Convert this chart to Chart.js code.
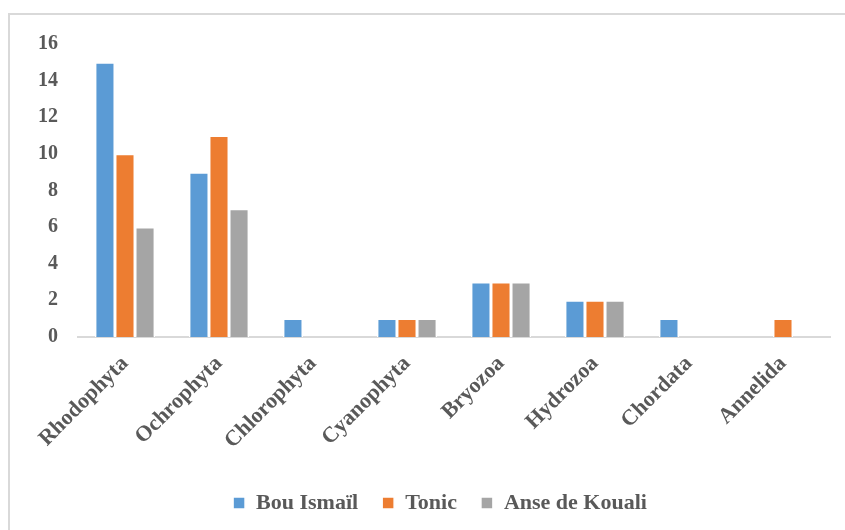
<!DOCTYPE html>
<html>
<head>
<meta charset="utf-8">
<script src="https://cdn.jsdelivr.net/npm/chart.js@4"></script>
<style>
  html, body { margin: 0; padding: 0; background: #fff; }
  #box { width: 845px; height: 530px; position: relative; }
</style>
</head>
<body>
<div id="box"><canvas id="grafico"></canvas></div>
<script>
// dados
const categorias = ['Rhodophyta', 'Ochrophyta', 'Chlorophyta', 'Cyanophyta', 'Bryozoa', 'Hydrozoa', 'Chordata', 'Annelida'];
const bouIsmail = [15, 9, 1, 1, 3, 2, 1, 0];
const tonic = [10, 11, 0, 1, 3, 2, 0, 1];
const anseDeKouali = [6, 7, 0, 1, 3, 2, 0, 0];
const ticksY = [0, 2, 4, 6, 8, 10, 12, 14, 16];

const fonte = '"Liberation Serif", "Times New Roman", serif';
const corTexto = '#595959';

// moldura cinza (canto superior esquerdo)
const moldura = {
  id: 'moldura',
  beforeDraw(chart) {
    const c = chart.ctx;
    c.save();
    c.strokeStyle = '#d9d9d9';
    c.lineWidth = 2;
    c.beginPath();
    c.moveTo(9, 530);
    c.lineTo(9, 14);
    c.lineTo(845, 14);
    c.stroke();
    c.restore();
  }
};

// legenda centrada sob a area do grafico
const legendaCentro = {
  id: 'legendaCentro',
  afterLayout(chart) {
    const lg = chart.legend;
    const desloc = (chart.chartArea.left + chart.chartArea.right) / 2 - (lg.left + lg.right) / 2 - 14;
    lg.left += desloc;
    lg.right += desloc;
  }
};

function serie(label, dados, cor) {
  return {
    label: label,
    data: dados,
    backgroundColor: cor,
    borderColor: '#ffffff',
    borderWidth: 1.5,
    borderSkipped: 'start',
    barPercentage: 1,
    categoryPercentage: 0.64
  };
}

new Chart(document.getElementById('grafico'), {
  type: 'bar',
  data: {
    labels: categorias,
    datasets: [
      serie('Bou Ismaïl', bouIsmail, '#5B9BD5'),
      serie('Tonic', tonic, '#ED7D31'),
      serie('Anse de Kouali', anseDeKouali, '#A5A5A5')
    ]
  },
  options: {
    responsive: true,
    maintainAspectRatio: false,
    animation: false,
    layout: { padding: { left: 8, right: 15, top: 44, bottom: 6 } },
    plugins: {
      tooltip: { enabled: false },
      legend: {
        position: 'bottom',
        labels: {
          boxWidth: 12,
          boxHeight: 12,
          padding: 24,
          color: corTexto,
          font: { family: fonte, size: 22, weight: 'bold' }
        }
      }
    },
    scales: {
      x: {
        grid: { display: false, drawTicks: false },
        border: { display: true, color: '#d9d9d9', width: 2 },
        ticks: {
          maxRotation: 45,
          minRotation: 45,
          padding: 14,
          color: corTexto,
          font: { family: fonte, size: 22, weight: 'bold' }
        }
      },
      y: {
        min: 0,
        max: 16,
        afterFit(scale) { scale.width = 70; },
        afterBuildTicks(scale) { scale.ticks = ticksY.map(v => ({ value: v })); },
        grid: { display: false, drawTicks: false },
        border: { display: false },
        ticks: {
          padding: 20,
          color: corTexto,
          font: { family: fonte, size: 20, weight: 'bold' }
        }
      }
    }
  },
  plugins: [moldura, legendaCentro]
});
</script>
</body>
</html>
